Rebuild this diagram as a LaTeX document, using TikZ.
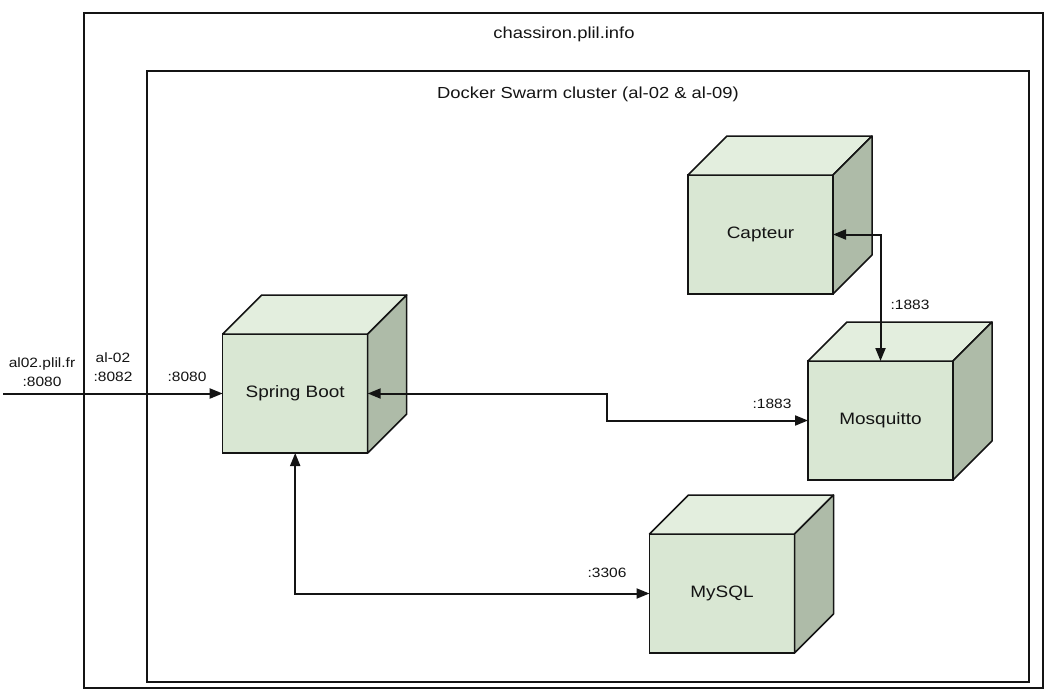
\documentclass[tikz,border=0pt]{standalone}
\usepackage{fontspec}
\setmainfont{Liberation Sans}[FakeStretch=1.15]
\usetikzlibrary{arrows.meta}
\definecolor{frontgreen}{HTML}{D9E7D3}
\definecolor{topgreen}{HTML}{E3EEDE}
\definecolor{sidegreen}{HTML}{AEBBA8}
\definecolor{inkgray}{HTML}{141414}

\tikzset{
  cubefront/.style={draw=inkgray, line width=1.5pt, fill=frontgreen, minimum width=145pt,
    minimum height=119pt, inner sep=0pt, outer sep=0pt, text=inkgray,
    font=\fontsize{16.5}{19}\selectfont},
  topface/.style={draw=inkgray, line width=1.5pt, fill=topgreen, line join=round},
  sideface/.style={draw=inkgray, line width=1.5pt, fill=sidegreen, line join=round},
  hostbox/.style={draw=inkgray, line width=2.2pt},
  boxtitle/.style={inner sep=0pt, text=inkgray, font=\fontsize{16}{19}\selectfont},
  portlabel/.style={inner sep=0pt, text=inkgray, align=center, font=\fontsize{13.5}{19}\selectfont},
  wire/.style={draw=inkgray, line width=2pt, line join=miter},
}

\begin{document}
\begin{tikzpicture}[x=1pt, y=-1pt, >={Triangle[length=13pt,width=10pt]}]
\useasboundingbox (0,0) rectangle (1057,697);

% hosts
\draw[hostbox] (84,13) rectangle (1043,688);
\draw[hostbox] (147,71) rectangle (1029,682);
\node[boxtitle] (host title) at (564,34) {chassiron.plil.info};
\node[boxtitle] (swarm title) at (588,94) {Docker Swarm cluster (al-02 \& al-09)};

% containers
\node[cubefront] (spring) at (295.2,393.5) {Spring Boot};
\node[cubefront] (capteur) at (760.5,234.5) {Capteur};
\node[cubefront] (mosq) at (880.5,420.5) {Mosquitto};
\node[cubefront] (mysql) at (722,593.5) {MySQL};
\foreach \c in {spring,capteur,mosq,mysql}{
  \filldraw[topface] (\c.north west) -- ++(39,-39) -- ++(145,0) -- (\c.north east) -- cycle;
  \filldraw[sideface] (\c.north east) -- ++(39,-39) -- ++(0,119) -- (\c.south east) -- cycle;
}

% ports
\coordinate (outside) at (3,393.5);
\coordinate (bend) at (607,420.5);
\draw[wire,->] (outside) -- (spring.west);
\draw[wire,<->] (spring.east) -| (bend) -- (mosq.west);
\draw[wire,<->] (capteur.east) -| (mosq.north);
\draw[wire,<->] (spring.south) |- (mysql.west);

\node[portlabel] (public port) at (42,372) {al02.plil.fr\\:8080};
\node[portlabel] (node port) at (113,367) {al-02\\:8082};
\node[portlabel] (spring port) at (187,377) {:8080};
\node[portlabel] (mosq port) at (772,404) {:1883};
\node[portlabel] (capteur port) at (910,305) {:1883};
\node[portlabel] (mysql port) at (607,573) {:3306};
\end{tikzpicture}
\end{document}
